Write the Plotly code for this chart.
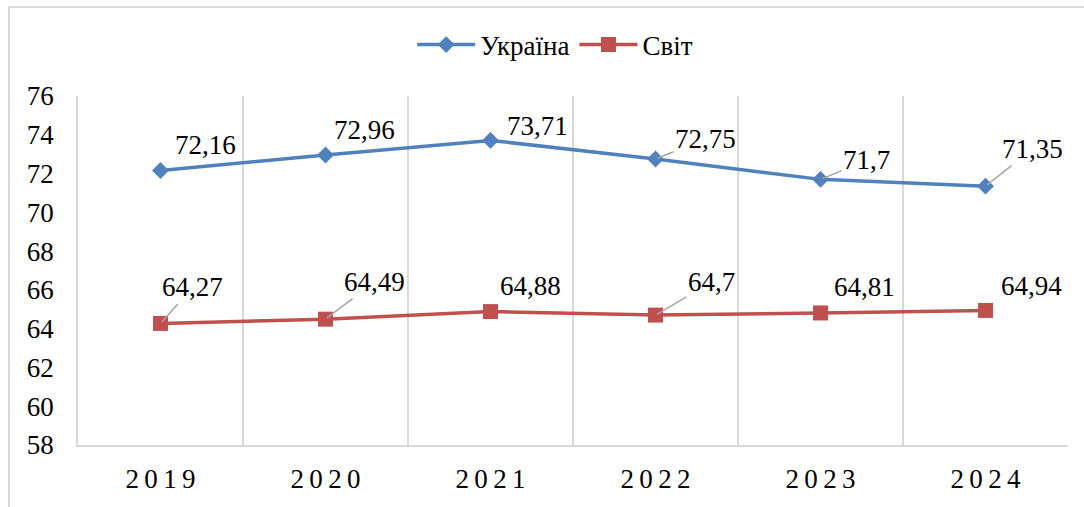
import plotly.graph_objects as go

years = ["2019", "2020", "2021", "2022", "2023", "2024"]
year_labels = ["2\u20090\u20091\u20099", "2\u20090\u20092\u20090", "2\u20090\u20092\u20091",
               "2\u20090\u20092\u20092", "2\u20090\u20092\u20093", "2\u20090\u20092\u20094"]
ukraine = [72.16, 72.96, 73.71, 72.75, 71.70, 71.35]
world = [64.27, 64.49, 64.88, 64.70, 64.81, 64.94]
ukraine_text = ["72,16", "72,96", "73,71", "72,75", "71,7", "71,35"]
world_text = ["64,27", "64,49", "64,88", "64,7", "64,81", "64,94"]
y_ticks = list(range(58, 77, 2))

# label offsets (px) and whether a leader line is shown
ua_off = [(45, -25, False), (39, -25, False), (47, -14, False), (50, -20, True), (46, -19, True), (47, -37, True)]
w_off = [(32, -36, True), (49, -37, True), (40, -26, False), (56, -33, True), (44, -26, False), (46, -24, False)]

BLUE = "#4F81BD"
RED = "#C0504D"
FONT = "Liberation Serif"

fig = go.Figure()
fig.add_trace(go.Scatter(x=years, y=ukraine, name="Україна", mode="lines+markers",
                         line=dict(color=BLUE, width=3.5),
                         marker=dict(symbol="diamond", size=13, color=BLUE)))
fig.add_trace(go.Scatter(x=years, y=world, name="Світ", mode="lines+markers",
                         line=dict(color=RED, width=3.5),
                         marker=dict(symbol="square", size=15, color=RED)))

for series, txts, offs in [(ukraine, ukraine_text, ua_off), (world, world_text, w_off)]:
    for i, (y, t, (ax, ay, lead)) in enumerate(zip(series, txts, offs)):
        fig.add_annotation(
            x=i, y=y, xref="x", yref="y", text=t, ax=ax, ay=ay,
            showarrow=True, arrowhead=0, arrowwidth=1.5, standoff=2,
            arrowcolor="#A5A5A5" if lead else "rgba(255,255,255,0)",
            font=dict(family=FONT, size=27, color="black"))

fig.update_layout(
    template="none",
    width=1084, height=507,
    margin=dict(l=78, r=16, t=96, b=62, autoexpand=False),
    paper_bgcolor="white", plot_bgcolor="white",
    font=dict(family=FONT, color="black", size=27),
    showlegend=True,
    legend=dict(orientation="h", x=0.482, xanchor="center", y=1.146, yanchor="middle",
                font=dict(family=FONT, size=27), itemwidth=58, bgcolor="rgba(0,0,0,0)"),
    shapes=[dict(type="rect", xref="paper", yref="paper", x0=-0.0697, x1=1.05, y0=-0.25, y1=1.255,
                 line=dict(color="#D9D9D9", width=2), layer="below")],
)
fig.update_xaxes(type="category", tickvals=years, ticktext=year_labels, tickson="boundaries",
                 showgrid=True, gridcolor="#D9D9D9", gridwidth=1.5,
                 showline=True, linecolor="#D9D9D9", linewidth=1.5, automargin=False,
                 ticks="", ticklabelstandoff=9, tickfont=dict(family=FONT, size=27),
                 range=[-0.5, 5.5], zeroline=False)
fig.update_yaxes(range=[58, 76], tickvals=y_ticks, showgrid=False,
                 showline=True, linecolor="#D9D9D9", linewidth=1.5, automargin=False,
                 ticks="", ticklabelstandoff=17, tickfont=dict(family=FONT, size=27),
                 zeroline=False)

fig.write_html("out.html", config={"displayModeBar": False},
               post_script="document.body.style.margin='0';")
